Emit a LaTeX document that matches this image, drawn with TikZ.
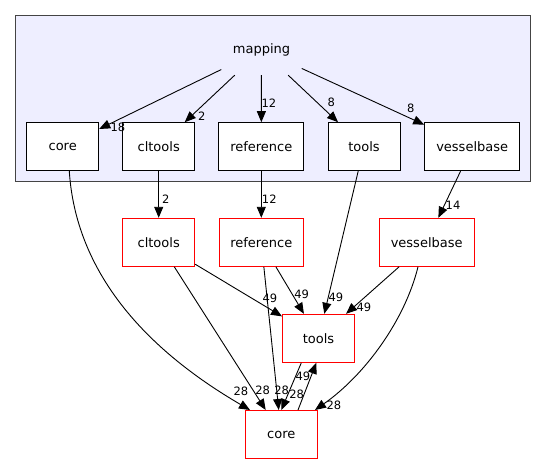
\documentclass[tikz,border=0pt]{standalone}
\usepackage{fontspec}
\setmainfont{DejaVu Sans}
\usetikzlibrary{arrows.meta}
\definecolor{clusterfill}{HTML}{EEEEFF}
\definecolor{clusterdraw}{HTML}{444444}
\begin{document}
\begin{tikzpicture}[x=1pt,y=-1pt,>={Triangle[length=11pt,width=9pt]},
  dirbox/.style={draw,fill=white,line width=1pt,inner sep=0pt,minimum width=72pt,minimum height=48pt,font=\fontsize{13}{15}\selectfont},
  count/.style={inner sep=0pt,font=\fontsize{11.5}{13}\selectfont}]
  \useasboundingbox (0,0) rectangle (547,464);
  \node[draw=clusterdraw,fill=clusterfill,line width=1pt,minimum width=515pt,minimum height=165.3pt] (cluster) at (273.2,98.35) {};
  \node[font=\fontsize{13}{15}\selectfont,minimum width=80pt,minimum height=50pt,inner sep=0pt] (mapping) at (261.5,50) {mapping};
  \begin{scope}[every node/.style={dirbox}]
  \node (icore) at (62.7,146.7) {core};
  \node (icltools) at (158.7,146.7) {cltools};
  \node[minimum width=84.7pt] (iref) at (261.3,146.7) {reference};
  \node (itools) at (364,146.7) {tools};
  \node[minimum width=95pt] (ivessel) at (472.2,146.7) {vesselbase};
  \end{scope}
  \begin{scope}[every node/.style={dirbox,draw=red}]
  \node (cltools) at (158.7,242.3) {cltools};
  \node[minimum width=84pt] (ref) at (261.3,242.3) {reference};
  \node[minimum width=94.7pt] (vessel) at (426.7,242.3) {vesselbase};
  \node (tools) at (318.5,338.3) {tools};
  \node (core) at (281.3,434.5) {core};
  \end{scope}
  \begin{scope}[every edge/.style={draw=black,line width=0.9pt,->}]
  \path (mapping) edge (icore);
  \path (mapping) edge (icltools);
  \path (mapping) edge (iref);
  \path (mapping) edge (itools);
  \path (mapping) edge (ivessel);
  \path (icltools) edge (cltools);
  \path (iref) edge (ref);
  \path (itools) edge (tools);
  \path (ivessel) edge (vessel);
  \path (cltools) edge (tools);
  \path (ref) edge (tools);
  \path (vessel) edge (tools);
  \path (cltools) edge (core);
  \path (ref) edge (core);
  \path ([xshift=-17.2pt]tools.south) edge (core.north);
  \path ([xshift=16.7pt]core.north) edge ([xshift=-2.2pt]tools.south);
  \end{scope}
  \draw[line width=0.9pt,->] ([xshift=6.6pt]icore.south) .. controls (75,260) and (130,340) .. ([xshift=-31.3pt]core.north);
  \draw[line width=0.9pt,->] ([xshift=-8.7pt]vessel.south) .. controls (405,320) and (365,375) .. ([xshift=33.7pt]core.north);
  \begin{scope}[every node/.style={count}]
  \node (l1) at (118,127.7) {18};
  \node (l2) at (201.7,116) {2};
  \node (l3) at (269,103.5) {12};
  \node (l4) at (331.3,102.7) {8};
  \node (l5) at (410.7,108.7) {8};
  \node (l6) at (165.7,199.3) {2};
  \node (l7) at (269.3,199.3) {12};
  \node (l8) at (453,205) {14};
  \node (l9) at (270,298) {49};
  \node (l10) at (301.7,294) {49};
  \node (l11) at (336,297.7) {49};
  \node (l12) at (364,307.3) {49};
  \node (l13) at (241,391.7) {28};
  \node (l14) at (262.7,390) {28};
  \node (l15) at (281.7,390.5) {28};
  \node (l16) at (296.7,394.5) {28};
  \node (l17) at (303,376.7) {49};
  \node (l18) at (334,405.7) {28};
  \end{scope}
\end{tikzpicture}
\end{document}
